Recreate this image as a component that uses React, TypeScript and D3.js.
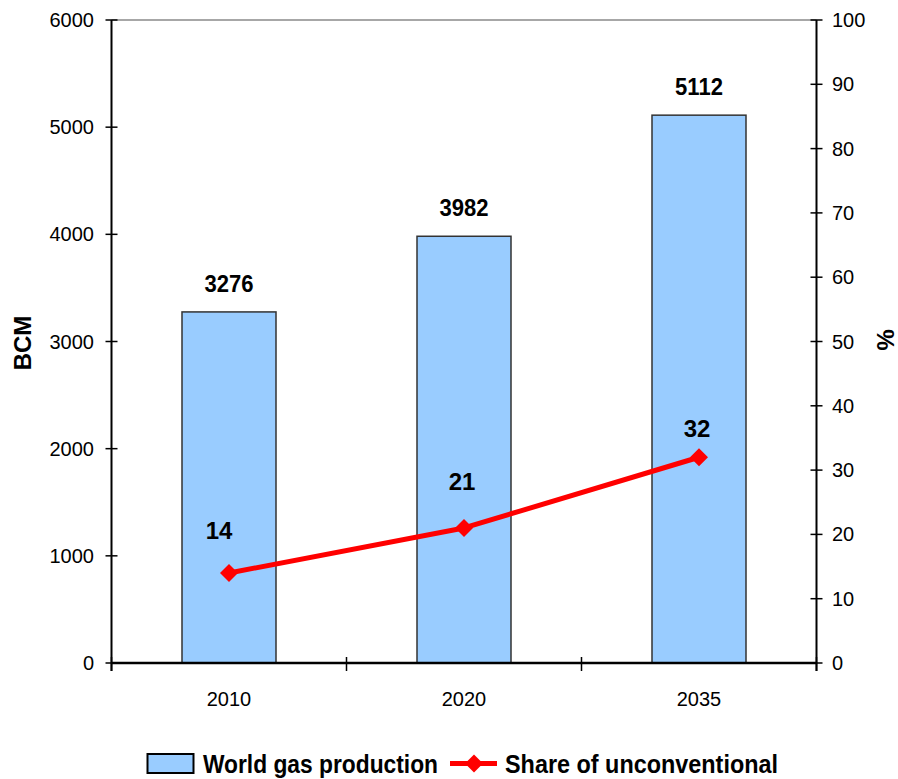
import React from "react";
import * as d3 from "d3";

const years = ["2010", "2020", "2035"];
const production = [3276, 3982, 5112];
const unconventionalShare = [14, 21, 32];
const leftTicks = [0, 1000, 2000, 3000, 4000, 5000, 6000];
const rightTicks = [0, 10, 20, 30, 40, 50, 60, 70, 80, 90, 100];
// vertical nudges for the share labels above each marker
const shareLabelLift = [34, 38, 20];

const W = 898;
const H = 779;
const left = 111.5;
const right = 816.5;
const top = 20;
const bottom = 663;

const FONT = "'Liberation Sans', Arial, sans-serif";

export default function App() {
  const x = d3.scaleBand<string>().domain(years).range([left, right]).paddingInner(0.6).paddingOuter(0.3);
  const step = x.step();
  const yL = d3.scaleLinear().domain([0, 6000]).range([bottom, top]);
  const yR = d3.scaleLinear().domain([0, 100]).range([bottom, top]);

  const linePath = d3
    .line<number>()
    .x((_, i) => (x(years[i]) as number) + x.bandwidth() / 2)
    .y((d) => yR(d))(unconventionalShare) as string;

  const diamond = (cx: number, cy: number, r: number) =>
    `M${cx},${cy - r}L${cx + r},${cy}L${cx},${cy + r}L${cx - r},${cy}Z`;

  const boundaries = d3.range(years.length + 1).map((i) => left + i * step);

  return (
    <svg
      width={W}
      height={H}
      style={{ position: "absolute", left: 0, top: 0, background: "#fff" }}
      fontFamily={FONT}
    >
      {/* top frame */}
      <line x1={left} x2={right} y1={top} y2={top} stroke="#8a8a8a" strokeWidth={1.5} />

      {/* bars */}
      {production.map((v, i) => (
        <rect
          key={years[i]}
          x={x(years[i])}
          y={yL(v)}
          width={x.bandwidth()}
          height={bottom - yL(v)}
          fill="#99CCFF"
          stroke="#333"
          strokeWidth={1.5}
        />
      ))}

      {/* bar value labels */}
      {production.map((v, i) => (
        <text
          key={"pl" + i}
          x={(x(years[i]) as number) + x.bandwidth() / 2}
          y={yL(v) - 20}
          textAnchor="middle"
          fontSize={24}
          fontWeight="bold"
          transform={`translate(${((x(years[i]) as number) + x.bandwidth() / 2) * 0.08},0) scale(0.92,1)`}
        >
          {v}
        </text>
      ))}

      {/* left axis */}
      <line x1={left} x2={left} y1={top} y2={bottom + 8} stroke="#000" strokeWidth={2} />
      {leftTicks.map((t) => (
        <g key={"l" + t}>
          <line x1={left - 6} x2={left + 6} y1={yL(t)} y2={yL(t)} stroke="#000" strokeWidth={1.5} />
          <text x={94} y={yL(t)} dy="0.35em" textAnchor="end" fontSize={20}>
            {t}
          </text>
        </g>
      ))}

      {/* right axis */}
      <line x1={right} x2={right} y1={top} y2={bottom + 8} stroke="#000" strokeWidth={2} />
      {rightTicks.map((t) => (
        <g key={"r" + t}>
          <line x1={right - 6} x2={right + 6} y1={yR(t)} y2={yR(t)} stroke="#000" strokeWidth={1.5} />
          <text x={832} y={yR(t)} dy="0.35em" textAnchor="start" fontSize={20}>
            {t}
          </text>
        </g>
      ))}

      {/* category axis */}
      <line x1={left} x2={right} y1={bottom} y2={bottom} stroke="#000" strokeWidth={2.5} />
      {boundaries.map((bx, i) => (
        <line key={"b" + i} x1={bx} x2={bx} y1={bottom - 6} y2={bottom + 8} stroke="#000" strokeWidth={1.5} />
      ))}
      {years.map((yr) => (
        <text
          key={"c" + yr}
          x={(x(yr) as number) + x.bandwidth() / 2}
          y={706}
          textAnchor="middle"
          fontSize={20}
        >
          {yr}
        </text>
      ))}

      {/* share line */}
      <path d={linePath} fill="none" stroke="#FF0000" strokeWidth={5} strokeLinejoin="round" />
      {unconventionalShare.map((v, i) => {
        const cx = (x(years[i]) as number) + x.bandwidth() / 2;
        return <path key={"m" + i} d={diamond(cx, yR(v), 9)} fill="#FF0000" />;
      })}
      {unconventionalShare.map((v, i) => {
        const cx = (x(years[i]) as number) + x.bandwidth() / 2 - (i === 0 ? 10 : 2);
        return (
          <text
            key={"sl" + i}
            x={cx}
            y={yR(v) - shareLabelLift[i]}
            textAnchor="middle"
            fontSize={24}
            fontWeight="bold"
          >
            {v}
          </text>
        );
      })}

      {/* axis titles */}
      <text
        transform={`translate(31,343) rotate(-90)`}
        textAnchor="middle"
        fontSize={24}
        fontWeight="bold"
      >
        BCM
      </text>
      <text
        transform={`translate(877,340) rotate(90)`}
        textAnchor="middle"
        fontSize={24}
        fontWeight="bold"
      >
        %
      </text>

      {/* legend */}
      <rect x={147.5} y={754} width={46} height={19} fill="#99CCFF" stroke="#000" strokeWidth={2} />
      <text x={203} y={773} fontSize={25} fontWeight="bold" textLength={235} lengthAdjust="spacingAndGlyphs">
        World gas production
      </text>
      <line x1={450} x2={497} y1={763.5} y2={763.5} stroke="#FF0000" strokeWidth={5} />
      <path d={diamond(474, 763.5, 9)} fill="#FF0000" />
      <text x={505} y={773} fontSize={25} fontWeight="bold" textLength={273} lengthAdjust="spacingAndGlyphs">
        Share of unconventional
      </text>
    </svg>
  );
}
